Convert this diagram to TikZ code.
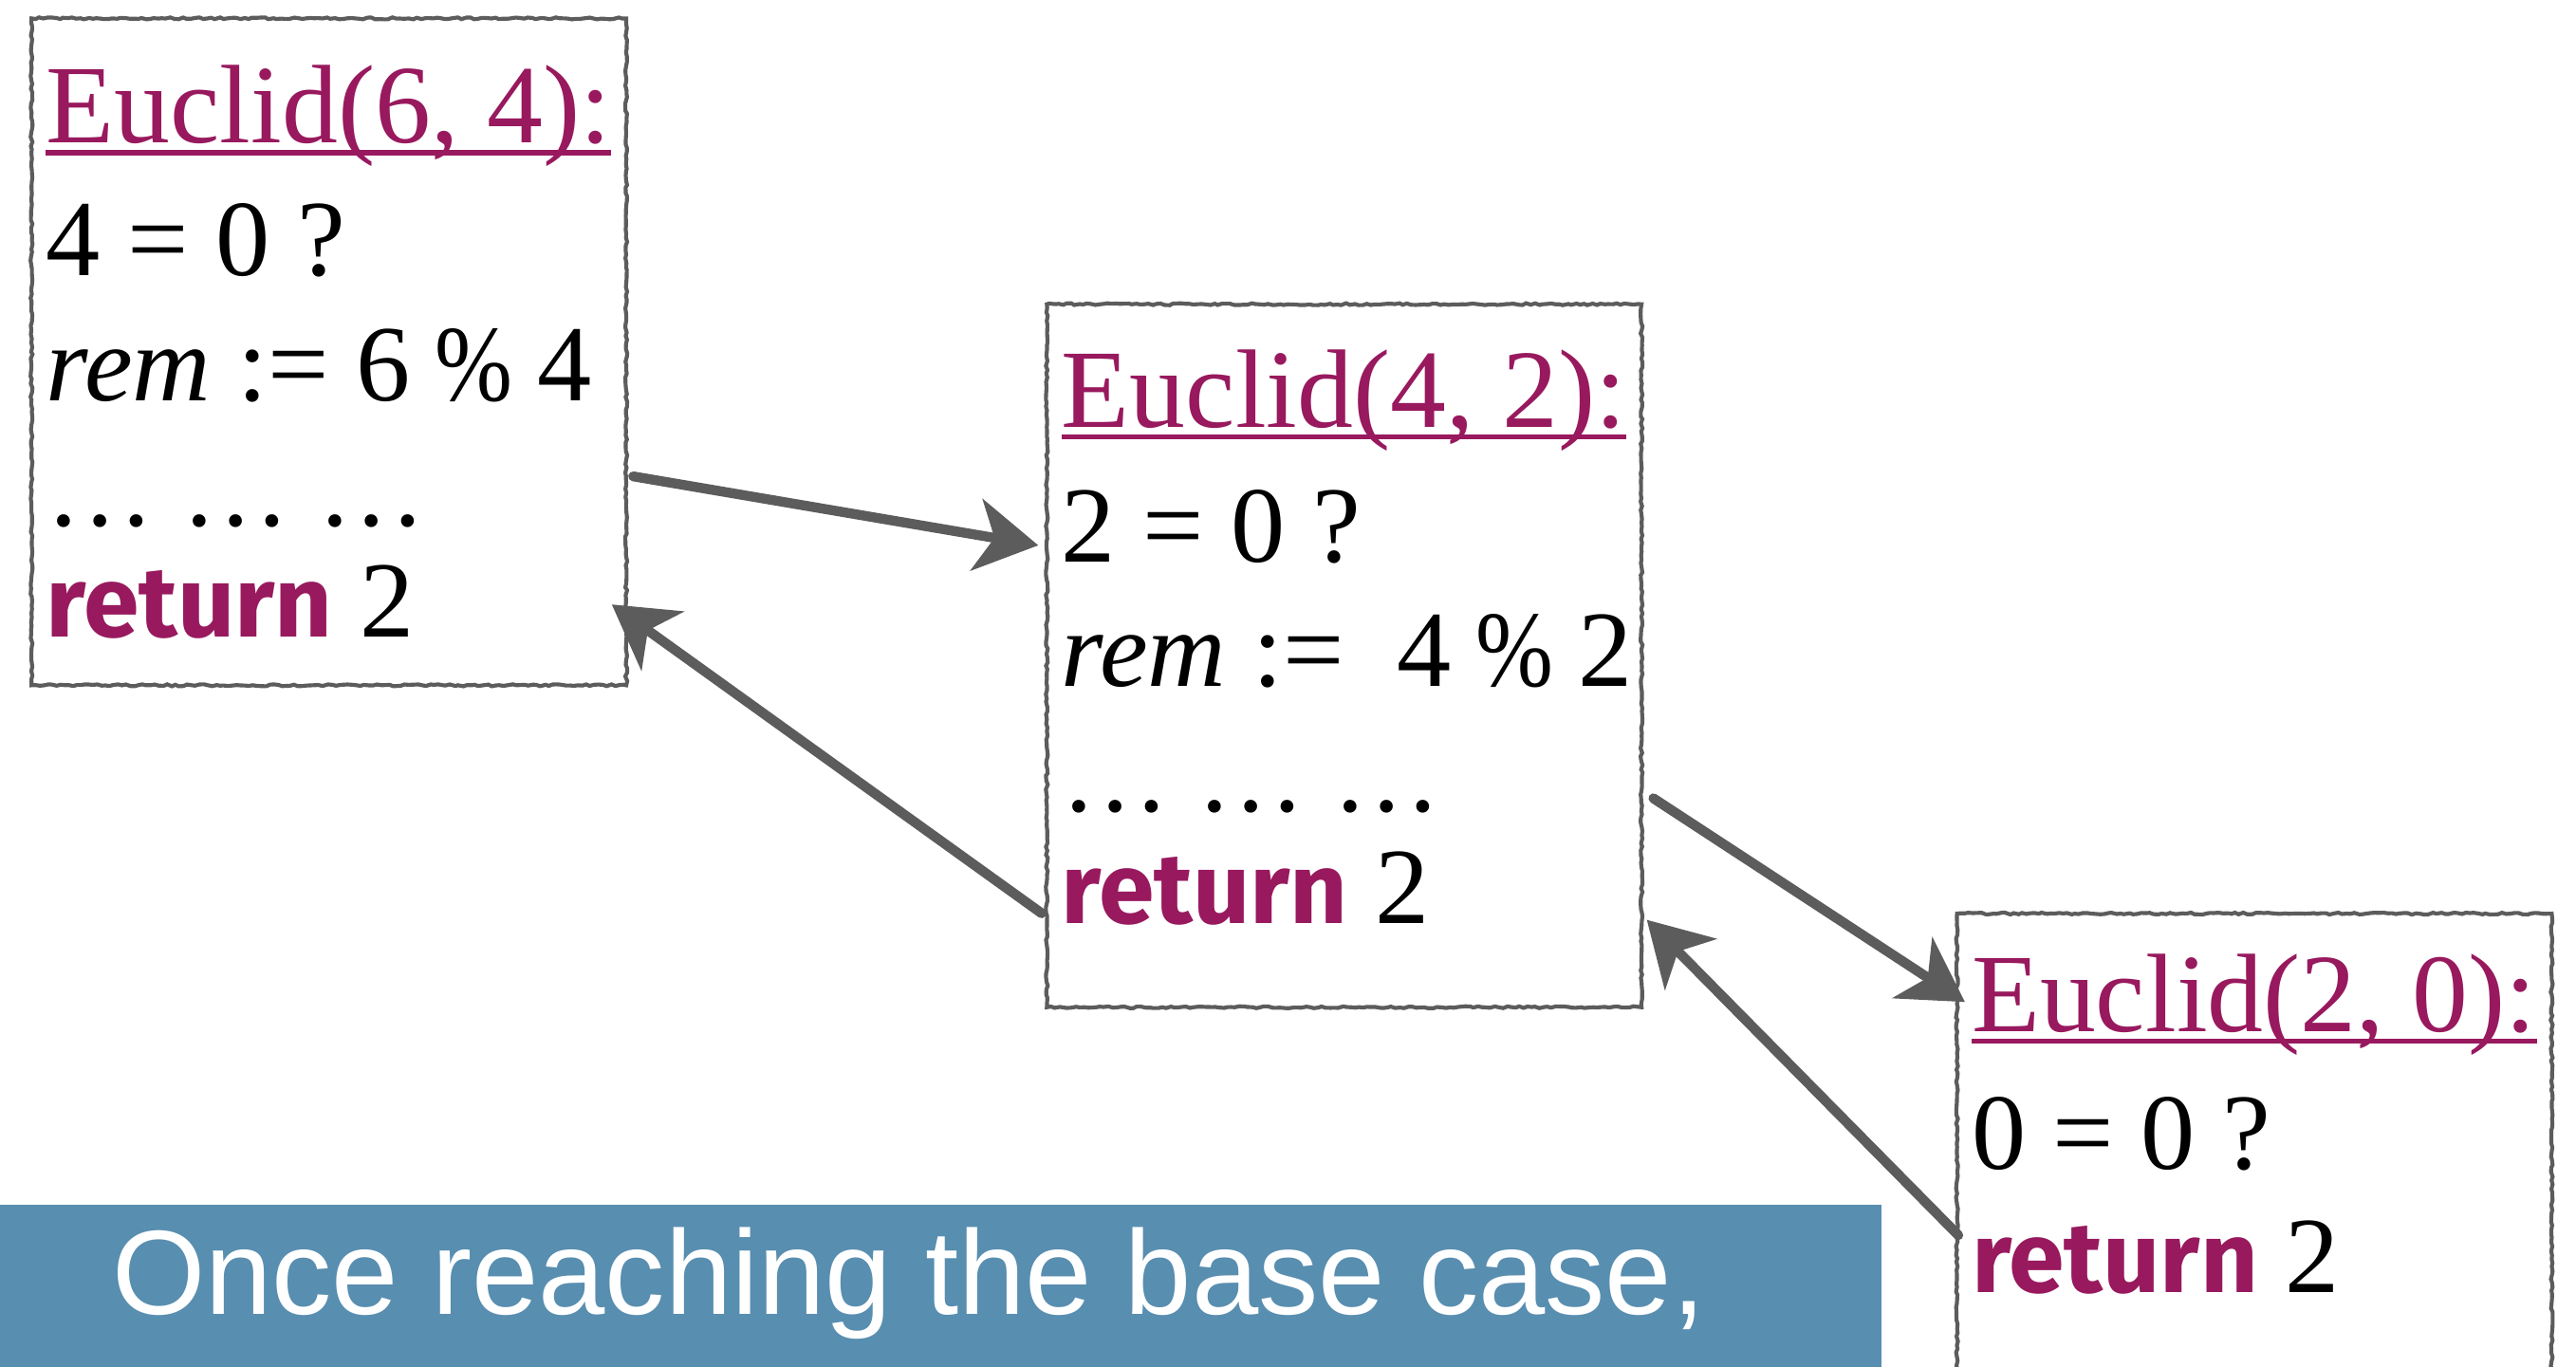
\documentclass[tikz,border=0pt]{standalone}
\usepackage{fontspec}
\usepackage{graphicx}
\setmainfont{Liberation Serif}
\newfontfamily\retfont{Fira Sans}
\newfontfamily\bannerfont{Liberation Sans}
\usetikzlibrary{arrows.meta,decorations.pathmorphing,calc}
\definecolor{eucpurple}{RGB}{152,25,94}
\definecolor{chalk}{RGB}{92,92,92}
\definecolor{bannerblue}{RGB}{88,142,176}
\newcommand{\retkw}{{\retfont\bfseries\color{eucpurple}\fontsize{61}{70}\selectfont return}}
\newcommand{\modsign}{\hspace{15pt}\scalebox{0.86}[1]{\%}\hspace{15pt}}
\begin{document}
\begin{tikzpicture}[x=1pt,y=-1pt,
  framebox/.style={draw=chalk, line width=2.4pt, fill=white, inner sep=0pt,
    anchor=north west, minimum width=362pt,
    decorate, decoration={random steps,segment length=2.5pt,amplitude=0.6pt}},
  codeline/.style={anchor=base west, inner sep=0pt, font=\fontsize{66}{76}\selectfont},
  titleline/.style={anchor=base west, inner sep=0pt, font=\fontsize{68}{76}\selectfont, text=eucpurple},
  uline/.style={eucpurple, line width=3pt},
  callarrow/.style={draw=chalk, line width=6pt, line cap=round,
    -{Stealth[length=38pt,width=44pt,inset=11pt]}}
]
\pgfmathsetseed{7}
\useasboundingbox (0,0) rectangle (1568,832);
\begin{scope}
\clip (0,0) rectangle (1568,832);

% boxes
\node[framebox, minimum height=406pt] (b1) at (18,10) {};
\node[framebox, minimum height=428pt] (b2) at (636,184) {};
\node[framebox, minimum height=320pt] (b3) at (1190,555) {};

% box 1 text
\node[titleline] (t11) at ($(b1.north west)+(10,77)$) {Euclid(6, 4):};
\draw[uline] ($(t11.base west)+(0,6)$) -- ($(t11.base east)+(0,6)$);
\node[codeline] (t12) at ($(b1.north west)+(10,158)$) {4 = 0 ?};
\node[codeline] (t13) at ($(b1.north west)+(10,234)$) {\textit{rem} := 6\modsign4};
\node[codeline] (t14) at ($(b1.north west)+(10,310)$) {\dots\ \dots\ \dots};
\node[codeline] (t15) at ($(b1.north west)+(10,378)$) {\retkw\ 2};

% box 2 text
\node[titleline] (t21) at ($(b2.north west)+(10,76)$) {Euclid(4, 2):};
\draw[uline] ($(t21.base west)+(0,6)$) -- ($(t21.base east)+(0,6)$);
\node[codeline] (t22) at ($(b2.north west)+(10,158)$) {2 = 0 ?};
\node[codeline] (t23) at ($(b2.north west)+(10,234)$) {\textit{rem} :=\hspace{32pt}4\modsign2};
\node[codeline] (t24) at ($(b2.north west)+(10,310)$) {\dots\ \dots\ \dots};
\node[codeline] (t25) at ($(b2.north west)+(10,378)$) {\retkw\ 2};

% box 3 text
\node[titleline] (t31) at ($(b3.north west)+(10,73)$) {Euclid(2, 0):};
\draw[uline] ($(t31.base west)+(0,6)$) -- ($(t31.base east)+(0,6)$);
\node[codeline] (t32) at ($(b3.north west)+(10,157)$) {0 = 0 ?};
\node[codeline] (t33) at ($(b3.north west)+(10,232)$) {\retkw\ 2};

% arrows
\coordinate (a1s) at ($(b1.north east)+(3,280)$);
\coordinate (a1e) at ($(b2.north west)+(-4,148)$);
\coordinate (a2s) at ($(b2.north west)+(-2,372)$);
\coordinate (a2e) at ($(b1.north east)+(-10,358)$);
\coordinate (a3s) at ($(b2.north east)+(6,302)$);
\coordinate (a3e) at ($(b3.north west)+(6,55)$);
\coordinate (a4s) at ($(b3.north west)+(2,197)$);
\coordinate (a4e) at ($(b2.north east)+(2,376)$);
\draw[callarrow] (a1s) -- (a1e);
\draw[callarrow] (a2s) -- (a2e);
\draw[callarrow] (a3s) -- (a3e);
\draw[callarrow] (a4s) -- (a4e);

% banner
\node[fill=bannerblue, anchor=north west, minimum width=1145pt, minimum height=110pt, inner sep=0pt] (ban) at (0,733) {};
\node[anchor=base west, inner sep=0pt, text=white, font=\bannerfont\fontsize{73}{80}\selectfont] (bantext) at ($(ban.north west)+(68,67)$) {Once reaching the base case,};
\end{scope}
\end{tikzpicture}
\end{document}
